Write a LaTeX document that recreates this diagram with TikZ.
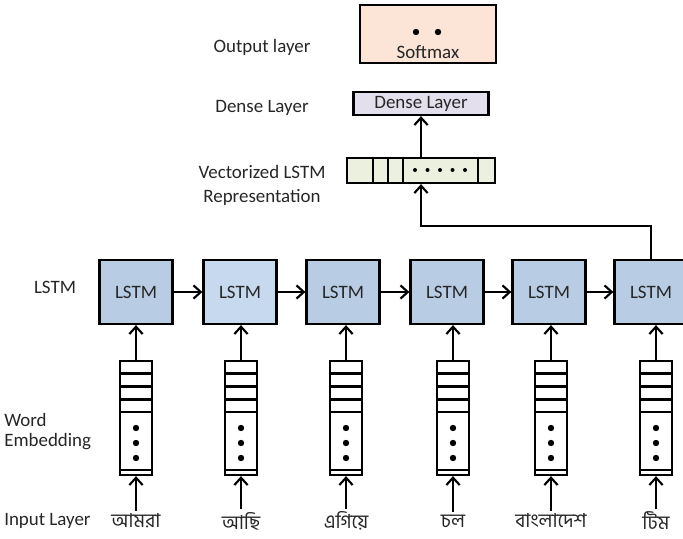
\documentclass[tikz,border=0pt]{standalone}
\usepackage{fontspec}
\setmainfont{Carlito}
\newfontfamily\bengalifont[Script=Bengali]{Hind Siliguri}
\usetikzlibrary{arrows.meta, positioning, calc}
\definecolor{lstmcolor}{RGB}{184,204,228}
\definecolor{lstmlight}{RGB}{199,217,239}
\definecolor{densecolor}{RGB}{228,223,236}
\definecolor{softcolor}{RGB}{252,228,214}
\definecolor{veccolor}{RGB}{235,241,222}
\definecolor{textcolor}{RGB}{38,38,38}
\newlength\px
\setlength\px{0.75pt}

\begin{document}
\begin{tikzpicture}[
    x=0.75pt, y=-0.75pt,
    font=\fontsize{14.2}{17}\selectfont, text=textcolor,
    frame/.style={draw, line width=1.7pt, inner sep=0pt},
    lstmbox/.style={frame, fill=lstmcolor, minimum width=73\px, minimum height=64\px},
    embbox/.style={frame, fill=white, minimum width=32\px, minimum height=114\px},
    word/.style={font=\bengalifont\fontsize{14.5}{17}\selectfont, inner sep=2pt},
    label/.style={inner sep=0pt, align=center},
    arrow/.style={-{Straight Barb[length=5.5pt, width=10pt, line width=1.6pt]}, line width=1.6pt}
]
    \useasboundingbox (0,0) rectangle (683,539);

    % output and dense layers
    \node[frame, fill=softcolor, minimum width=136\px, minimum height=58\px] (soft) at (428,34) {};
    \node[label] (softtext) at (428,52) {Softmax};
    \fill (416,32) circle (3.2\px) (438,32) circle (3.2\px);
    \node[frame, fill=densecolor, minimum width=135\px, minimum height=23\px] (dense) at (421,103.5) {Dense Layer};

    % vectorized representation
    \node[frame, fill=veccolor, minimum width=148\px, minimum height=25\px] (vec) at (421,170.5) {};
    \foreach \x in {373,388,403,478}
        \draw[line width=1.7pt] (\x,158) -- (\x,183);
    \foreach \x in {415,427.5,...,465}
        \fill (\x,170) circle (2\px);
    \draw[arrow] (vec) -- (dense);

    % LSTM chain
    \node[lstmbox] (l1) at (136,292) {LSTM};
    \node[lstmbox, fill=lstmlight] (l2) at (240,292) {LSTM};
    \node[lstmbox] (l3) at (343,292) {LSTM};
    \node[lstmbox] (l4) at (447,292) {LSTM};
    \node[lstmbox] (l5) at (549,292) {LSTM};
    \node[lstmbox] (l6) at (651,292) {LSTM};
    \foreach \a/\b in {l1/l2, l2/l3, l3/l4, l4/l5, l5/l6}
        \draw[arrow] (\a) -- (\b);
    \draw[arrow] (l6.north) -- ++(0,-33) -| (vec.south);

    % word embeddings and input words
    \foreach \i/\x/\w in {1/136/আমরা, 2/241/আছি, 3/346/এগিয়ে, 4/453/চল, 5/551/বাংলাদেশ, 6/656/টিম} {
        \node[embbox] (e\i) at (\x,418) {};
        \foreach \y in {373.5,386.5,399.5,412,470}
            \draw[line width=1.7pt] (e\i.west |- 0,\y) -- (e\i.east |- 0,\y);
        \foreach \y in {428,443,458}
            \fill (\x,\y) circle (3.2\px);
        \node[word] (w\i) at (\x,521) {\w};
        \draw[arrow] (w\i) -- (e\i);
        \draw[arrow] (e\i.north) -- (e\i.north |- l\i.south);
    }

    % layer names
    \node[label] (outlbl) at (262,47) {Output layer};
    \node[label] (denselbl) at (262,108) {Dense Layer};
    \node[label, font=\fontsize{14.2}{18}\selectfont] (veclbl) at (262,185) {Vectorized LSTM\\Representation};
    \node[label] (lstmlbl) at (55,287) {LSTM};
    \node[label, align=left, anchor=west, font=\fontsize{14.2}{15}\selectfont] (emblbl) at (4,432) {Word\\Embedding};
    \node[label, anchor=west] (inlbl) at (4,521) {Input Layer};
\end{tikzpicture}
\end{document}
